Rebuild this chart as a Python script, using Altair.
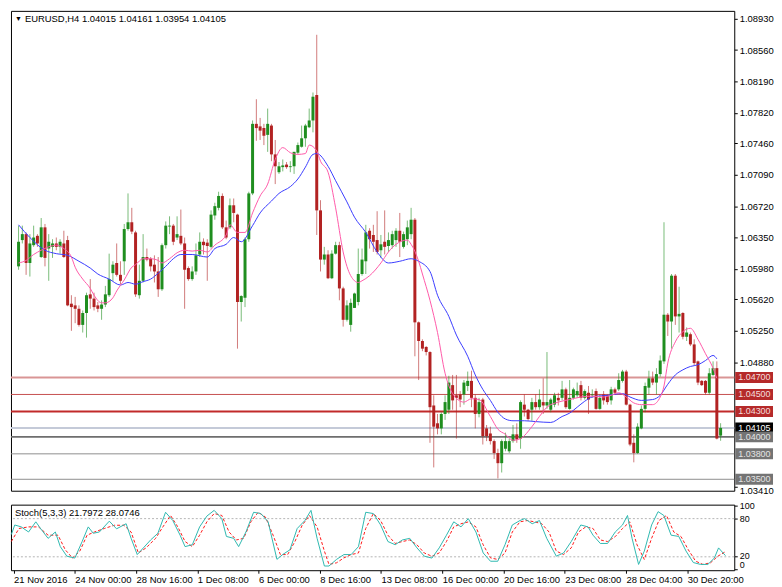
import altair as alt
import pandas as pd

# ---------------- H4 candles (index 0 = 21 Nov 2016 08:00) ----------------
bar_open = [1.0601, 1.0632, 1.0639, 1.0605, 1.0626, 1.0637, 1.0612, 1.0647, 1.0622, 1.0624,
            1.0628, 1.0624, 1.0628, 1.0632, 1.0557, 1.0555, 1.0551, 1.0532, 1.0546, 1.0568,
            1.0563, 1.0555, 1.0551, 1.0556, 1.0567, 1.0593, 1.0605, 1.0591, 1.0607, 1.0645,
            1.0653, 1.0641, 1.0567, 1.0584, 1.0612, 1.0610, 1.0603, 1.0595, 1.0574, 1.0626,
            1.0648, 1.0649, 1.0635, 1.0637, 1.0628, 1.0599, 1.0586, 1.0595, 1.0615, 1.0630,
            1.0629, 1.0624, 1.0661, 1.0670, 1.0684, 1.0647, 1.0647, 1.0673, 1.0662, 1.0559,
            1.0564, 1.0633, 1.0687, 1.0769, 1.0766, 1.0764, 1.0756, 1.0767, 1.0733, 1.0712,
            1.0718, 1.0721, 1.0718, 1.0719, 1.0735, 1.0742, 1.0752, 1.0765, 1.0773, 1.0803,
            1.0667, 1.0609, 1.0615, 1.0587, 1.0616, 1.0626, 1.0575, 1.0538, 1.0532, 1.0552,
            1.0559, 1.0592, 1.0607, 1.0643, 1.0638, 1.0632, 1.0620, 1.0630, 1.0625, 1.0626,
            1.0632, 1.0643, 1.0624, 1.0633, 1.0639, 1.0656, 1.0535, 1.0513, 1.0506, 1.0500,
            1.0437, 1.0416, 1.0410, 1.0427, 1.0432, 1.0461, 1.0449, 1.0450, 1.0450, 1.0460,
            1.0466, 1.0446, 1.0427, 1.0444, 1.0410, 1.0404, 1.0395, 1.0381, 1.0369, 1.0386,
            1.0383, 1.0395, 1.0403, 1.0398, 1.0438, 1.0432, 1.0432, 1.0441, 1.0435, 1.0441,
            1.0437, 1.0432, 1.0438, 1.0446, 1.0446, 1.0456, 1.0433, 1.0446, 1.0449, 1.0461,
            1.0446, 1.0452, 1.0449, 1.0454, 1.0433, 1.0450, 1.0449, 1.0443, 1.0456, 1.0456,
            1.0466, 1.0477, 1.0438, 1.0393, 1.0381, 1.0410, 1.0433, 1.0458, 1.0469, 1.0464,
            1.0474, 1.0489, 1.0544, 1.0536, 1.0590, 1.0542, 1.0546, 1.0518, 1.0521, 1.0509,
            1.0489, 1.0466, 1.0466, 1.0452, 1.0473, 1.0481, 1.04015]
bar_high = [1.0649, 1.0649, 1.0641, 1.0639, 1.0649, 1.0639, 1.0658, 1.0651, 1.0639, 1.0633,
            1.0635, 1.0633, 1.0643, 1.0637, 1.0567, 1.0565, 1.0555, 1.0549, 1.0570, 1.0586,
            1.0570, 1.0559, 1.0561, 1.0578, 1.0616, 1.0607, 1.0628, 1.0607, 1.0651, 1.0687,
            1.0670, 1.0643, 1.0603, 1.0639, 1.0622, 1.0612, 1.0614, 1.0612, 1.0628, 1.0654,
            1.0660, 1.0651, 1.0660, 1.0668, 1.0635, 1.0601, 1.0601, 1.0628, 1.0641, 1.0634,
            1.0633, 1.0667, 1.0676, 1.0689, 1.0687, 1.0655, 1.0681, 1.0681, 1.0663, 1.0567,
            1.0635, 1.0689, 1.0773, 1.0798, 1.0776, 1.0769, 1.0787, 1.0769, 1.0750, 1.0724,
            1.0727, 1.0724, 1.0725, 1.0736, 1.0747, 1.0767, 1.0769, 1.0787, 1.0806, 1.0874,
            1.0679, 1.0624, 1.0620, 1.0620, 1.0630, 1.0630, 1.0577, 1.0561, 1.0563, 1.0570,
            1.0622, 1.0622, 1.0650, 1.0646, 1.0650, 1.0666, 1.0638, 1.0667, 1.0641, 1.0643,
            1.0646, 1.0664, 1.0642, 1.0655, 1.0670, 1.0658, 1.0536, 1.0515, 1.0507, 1.0501,
            1.0449, 1.0427, 1.0429, 1.0449, 1.0472, 1.0473, 1.0473, 1.0454, 1.0467, 1.0477,
            1.0478, 1.0450, 1.0446, 1.0446, 1.0414, 1.0412, 1.0397, 1.0386, 1.0397, 1.0405,
            1.0398, 1.0414, 1.0416, 1.0443, 1.0450, 1.0433, 1.0446, 1.0450, 1.0456, 1.0469,
            1.0500, 1.0446, 1.0452, 1.0452, 1.0466, 1.0458, 1.0467, 1.0458, 1.0464, 1.0466,
            1.0456, 1.0460, 1.0456, 1.0457, 1.0450, 1.0454, 1.0450, 1.0459, 1.0458, 1.0475,
            1.0479, 1.0479, 1.0439, 1.0403, 1.0416, 1.0437, 1.0464, 1.0478, 1.0477, 1.0481,
            1.0496, 1.0653, 1.0546, 1.0592, 1.0592, 1.0577, 1.0547, 1.0529, 1.0523, 1.0515,
            1.0490, 1.0467, 1.0467, 1.0481, 1.0489, 1.0489, 1.04161]
bar_low = [1.0597, 1.0628, 1.0591, 1.0589, 1.0624, 1.0624, 1.0611, 1.0601, 1.0584, 1.0611,
           1.0620, 1.0616, 1.0611, 1.0554, 1.0525, 1.0534, 1.0530, 1.0523, 1.0517, 1.0551,
           1.0549, 1.0547, 1.0538, 1.0553, 1.0565, 1.0584, 1.0589, 1.0580, 1.0591, 1.0643,
           1.0639, 1.0565, 1.0563, 1.0582, 1.0607, 1.0595, 1.0582, 1.0565, 1.0572, 1.0622,
           1.0639, 1.0626, 1.0632, 1.0626, 1.0551, 1.0584, 1.0584, 1.0591, 1.0612, 1.0615,
           1.0584, 1.0622, 1.0656, 1.0667, 1.0645, 1.0633, 1.0645, 1.0653, 1.0504, 1.0536,
           1.0553, 1.0630, 1.0685, 1.0749, 1.0750, 1.0744, 1.0736, 1.0725, 1.0698, 1.0710,
           1.0713, 1.0716, 1.0712, 1.0710, 1.0733, 1.0741, 1.0742, 1.0764, 1.0759, 1.0638,
           1.0595, 1.0603, 1.0586, 1.0586, 1.0615, 1.0561, 1.0530, 1.0536, 1.0524, 1.0552,
           1.0555, 1.0590, 1.0592, 1.0622, 1.0618, 1.0615, 1.0611, 1.0615, 1.0618, 1.0622,
           1.0624, 1.0612, 1.0622, 1.0626, 1.0633, 1.0495, 1.0467, 1.0501, 1.0496, 1.0393,
           1.0364, 1.0403, 1.0403, 1.0420, 1.0427, 1.0432, 1.0398, 1.0435, 1.0438, 1.0454,
           1.0435, 1.0410, 1.0423, 1.0391, 1.0395, 1.0391, 1.0374, 1.0351, 1.0358, 1.0383,
           1.0381, 1.0393, 1.0393, 1.0386, 1.0424, 1.0419, 1.0419, 1.0432, 1.0432, 1.0427,
           1.0433, 1.0429, 1.0435, 1.0437, 1.0443, 1.0433, 1.0432, 1.0444, 1.0446, 1.0443,
           1.0444, 1.0427, 1.0446, 1.0432, 1.0432, 1.0438, 1.0438, 1.0438, 1.0450, 1.0454,
           1.0464, 1.0437, 1.0389, 1.0370, 1.0380, 1.0409, 1.0429, 1.0450, 1.0461, 1.0450,
           1.0471, 1.0486, 1.0519, 1.0504, 1.0532, 1.0523, 1.0515, 1.0513, 1.0507, 1.0484,
           1.0461, 1.0460, 1.0450, 1.0450, 1.0472, 1.0397, 1.03954]
bar_close = [1.0630, 1.0639, 1.0605, 1.0628, 1.0635, 1.0628, 1.0647, 1.0611, 1.0630, 1.0628,
             1.0624, 1.0630, 1.0612, 1.0555, 1.0553, 1.0551, 1.0532, 1.0546, 1.0567, 1.0563,
             1.0553, 1.0551, 1.0556, 1.0568, 1.0586, 1.0603, 1.0591, 1.0584, 1.0645, 1.0653,
             1.0642, 1.0568, 1.0584, 1.0612, 1.0609, 1.0601, 1.0595, 1.0574, 1.0626, 1.0649,
             1.0649, 1.0630, 1.0639, 1.0628, 1.0597, 1.0586, 1.0595, 1.0614, 1.0630, 1.0626,
             1.0625, 1.0662, 1.0672, 1.0684, 1.0647, 1.0635, 1.0673, 1.0664, 1.0559, 1.0566,
             1.0633, 1.0687, 1.0769, 1.0764, 1.0761, 1.0755, 1.0769, 1.0733, 1.0719, 1.0719,
             1.0720, 1.0718, 1.0719, 1.0736, 1.0744, 1.0752, 1.0767, 1.0773, 1.0801, 1.0667,
             1.0609, 1.0615, 1.0587, 1.0616, 1.0626, 1.0575, 1.0538, 1.0555, 1.0558, 1.0569,
             1.0592, 1.0609, 1.0641, 1.0633, 1.0630, 1.0618, 1.0627, 1.0624, 1.0632, 1.0639,
             1.0643, 1.0630, 1.0639, 1.0647, 1.0656, 1.0535, 1.0513, 1.0504, 1.0500, 1.0435,
             1.0412, 1.0410, 1.0427, 1.0441, 1.0464, 1.0443, 1.0446, 1.0444, 1.0464, 1.0466,
             1.0446, 1.0427, 1.0441, 1.0401, 1.0401, 1.0395, 1.0381, 1.0369, 1.0395, 1.0395,
             1.0395, 1.0403, 1.0397, 1.0441, 1.0432, 1.0421, 1.0441, 1.0435, 1.0444, 1.0437,
             1.0441, 1.0444, 1.0449, 1.0443, 1.0456, 1.0435, 1.0446, 1.0456, 1.0454, 1.0446,
             1.0454, 1.0444, 1.0450, 1.0433, 1.0446, 1.0443, 1.0441, 1.0456, 1.0452, 1.0467,
             1.0477, 1.0438, 1.0391, 1.0381, 1.0412, 1.0433, 1.0460, 1.0469, 1.0464, 1.0474,
             1.0490, 1.0544, 1.0536, 1.0590, 1.0542, 1.0545, 1.0518, 1.0523, 1.0509, 1.0487,
             1.0464, 1.0461, 1.0452, 1.0475, 1.0481, 1.0398, 1.04105]

# ---------------- moving averages (bar index, price) ----------------
ma_fast_idx = [0, 2, 4, 6, 8, 10, 12, 14, 15, 17, 19, 20, 22, 23, 25, 26, 28, 30, 31, 33,
               35, 37, 38, 40, 42, 44, 46, 48, 50, 52, 55, 56, 58, 60, 62, 64, 66, 68, 70, 72,
               74, 76, 77, 79, 80, 82, 84, 86, 88, 90, 91, 93, 96, 98, 100, 103, 104, 106, 107, 109,
               111, 113, 115, 118, 120, 122, 125, 127, 129, 131, 133, 136, 138, 140, 143, 146, 149, 152, 155, 157,
               159, 161, 163, 165, 168, 170, 171, 172, 174, 176, 178, 180, 182, 184, 185]
ma_fast_val = [1.0605, 1.0608, 1.0615, 1.0620, 1.0624, 1.0626, 1.0622, 1.0612, 1.0600, 1.0586,
               1.0575, 1.0567, 1.0558, 1.0558, 1.0564, 1.0572, 1.0585, 1.0600, 1.0603, 1.0610,
               1.0610, 1.0608, 1.0605, 1.0610, 1.0617, 1.0620, 1.0619, 1.0620, 1.0618, 1.0626,
               1.0638, 1.0650, 1.0641, 1.0641, 1.0664, 1.0684, 1.0698, 1.0727, 1.0741, 1.0735,
               1.0733, 1.0734, 1.0744, 1.0737, 1.0725, 1.0712, 1.0670, 1.0618, 1.0590, 1.0582,
               1.0584, 1.0590, 1.0605, 1.0618, 1.0627, 1.0632, 1.0627, 1.0607, 1.0592, 1.0561,
               1.0523, 1.0475, 1.0451, 1.0441, 1.0445, 1.0444, 1.0424, 1.0409, 1.0403, 1.0396,
               1.0398, 1.0412, 1.0424, 1.0435, 1.0441, 1.0444, 1.0447, 1.0448, 1.0447, 1.0449,
               1.0452, 1.0447, 1.0440, 1.0438, 1.0438, 1.0447, 1.0460, 1.0487, 1.0512, 1.0524,
               1.0528, 1.0515, 1.0498, 1.0481, 1.0469]
ma_slow_idx = [0, 3, 7, 10, 13, 16, 19, 21, 24, 27, 29, 31, 33, 35, 37, 39, 41, 43, 46, 50,
               52, 55, 57, 59, 62, 64, 67, 69, 72, 74, 76, 78, 79, 82, 84, 87, 89, 92, 95, 98,
               101, 104, 106, 109, 111, 114, 116, 119, 121, 123, 125, 127, 129, 131, 134, 137, 141, 144, 146, 148,
               150, 152, 156, 160, 162, 165, 168, 170, 172, 174, 176, 178, 180, 182, 184, 185]
ma_slow_val = [1.0650, 1.0635, 1.0620, 1.0616, 1.0614, 1.0607, 1.0599, 1.0592, 1.0586, 1.0579,
               1.0582, 1.0580, 1.0583, 1.0586, 1.0593, 1.0601, 1.0610, 1.0615, 1.0615, 1.0612,
               1.0622, 1.0627, 1.0635, 1.0630, 1.0649, 1.0664, 1.0678, 1.0687, 1.0695, 1.0704,
               1.0718, 1.0733, 1.0734, 1.0719, 1.0702, 1.0677, 1.0659, 1.0641, 1.0618, 1.0605,
               1.0607, 1.0610, 1.0607, 1.0595, 1.0567, 1.0542, 1.0520, 1.0495, 1.0473, 1.0456,
               1.0443, 1.0429, 1.0421, 1.0419, 1.0419, 1.0418, 1.0417, 1.0424, 1.0428, 1.0435,
               1.0442, 1.0447, 1.0449, 1.0451, 1.0447, 1.0443, 1.0444, 1.0449, 1.0462, 1.0473,
               1.0479, 1.0483, 1.0485, 1.0490, 1.0496, 1.0492]

# ---------------- Stochastic (5,3,3) ----------------
stoch_k_idx = [-0.6, 0.3, 2.0, 3.9, 5.8, 7.1, 9.0, 10.9, 12.2, 13.9, 16.0, 17.9, 19.5, 20.8, 22.4,
               25.0, 26.9, 29.4, 30.7, 32.3, 33.9, 35.8, 37.7, 39.7, 41.6, 43.5, 44.8, 46.7, 48.6,
               50.5, 52.4, 54.4, 55.6, 57.5, 58.8, 60.7, 62.7, 64.6, 66.5, 68.8, 70.3, 72.2, 74.1,
               76.1, 77.7, 79.3, 81.2, 82.4, 84.4, 86.3, 88.2, 90.1, 92.0, 94.0, 95.9, 97.8, 99.7,
               101.6, 103.5, 105.4, 107.3, 109.3, 111.2, 113.1, 115.0, 116.9, 118.8, 120.8, 122.7,
               124.6, 126.5, 128.4, 130.3, 132.3, 133.5, 135.5, 137.4, 139.3, 141.8, 143.7, 145.7,
               148.2, 150.1, 151.4, 153.3, 155.2, 157.2, 159.1, 160.4, 161.6, 163.3, 164.8, 166.7,
               168.4, 169.9, 171.8, 173.8, 175.7, 177.6, 179.5, 181.4, 183.1, 184.2, 186.0]
stoch_k_val = [55, 70, 67, 59, 75, 64, 49, 59, 36, 21, 18, 44, 67, 57, 59,
               76, 64, 72, 49, 23.5, 34, 46.5, 57, 90, 77, 54, 36, 39, 67,
               84, 93, 80, 52, 49, 36, 59, 90, 88, 75, 16, 23.5, 31, 64.5,
               77, 93, 49, 5.5, 5.5, 16, 23.5, 23.5, 36, 90, 88, 70, 44, 39,
               46.5, 49, 34, 21, 18, 34, 54, 75, 67, 80, 59, 26,
               13, 13, 39, 70, 77, 80, 72, 77, 49, 21, 26, 44,
               70, 67, 54, 41, 41, 59, 70, 85, 49, 8, 29, 70,
               91, 85, 54, 52, 29, 11, 8, 8, 18, 34, 21.7972]
stoch_d_idx = [-0.6, 1.4, 3.9, 6.5, 9.0, 11.6, 13.5, 15.4, 17.3, 19.2, 21.1, 23.7, 26.3, 28.8, 30.7,
               32.6, 34.6, 37.1, 39.0, 41.0, 42.9, 44.8, 46.7, 48.6, 50.5, 52.4, 54.4, 56.3, 58.2,
               60.1, 62.0, 63.9, 65.8, 67.8, 69.7, 71.6, 73.5, 75.4, 77.3, 79.3, 81.2, 82.4, 84.4,
               86.3, 88.2, 90.1, 92.0, 94.0, 95.9, 97.8, 99.7, 101.6, 103.5, 105.4, 107.3, 109.3,
               111.2, 113.1, 115.0, 116.9, 118.8, 120.8, 122.7, 124.6, 126.5, 128.4, 130.3, 132.3,
               134.2, 136.1, 138.0, 139.9, 141.8, 143.7, 145.7, 147.6, 149.5, 151.4, 153.3, 155.2,
               157.2, 159.1, 161.0, 162.9, 164.8, 166.7, 168.6, 170.6, 172.5, 174.4, 176.3, 178.2,
               180.1, 182.1, 184.0, 186.0]
stoch_d_val = [44, 64.5, 67, 67, 54, 54, 31, 18, 29, 54, 59, 64.5, 69.6, 69.6, 59,
               26, 34, 49, 67, 85, 67, 44, 36, 54, 75, 88, 85, 59, 46.5,
               49, 75, 90, 82.5, 54, 23.5, 23.5, 44, 69.6, 85, 67, 29, 8, 10.6,
               18.3, 23.5, 26, 64.5, 88, 77, 54, 41, 44, 46.5, 38.8, 26, 20.9,
               26, 44, 67, 72, 74.8, 67, 38.8, 18.3, 15.8, 26, 59, 75,
               77, 75, 72, 59, 29, 23.5, 34, 59, 67, 64.5, 46.5, 44,
               51.7, 64.5, 75, 38.8, 15.8, 49, 77, 85, 59, 51.7, 31, 13.2,
               8, 10.6, 20.9, 28.0746]

# ---------------- horizontal levels ----------------
level_prices = [1.04700, 1.04500, 1.04300, 1.04105, 1.04000, 1.03800, 1.03500]
level_labels = ["1.04700", "1.04500", "1.04300", "1.04105", "1.04000", "1.03800", "1.03500"]
level_line_colors = ["#d99595", "#c65050", "#c12a2a", "#c4cad8", "#6e6e6e", "#8e8e8e", "#8e8e8e"]
level_line_widths = [2, 1, 2, 2, 2, 1, 1]
level_box_colors = ["#b52a2a", "#b52a2a", "#b52a2a", "#000000", "#747474", "#747474", "#747474"]
level_text_colors = ["#f4dede", "#f4dede", "#f4dede", "#ffffff", "#e4e4e4", "#e4e4e4", "#e4e4e4"]

price_ticks = [1.08930, 1.08560, 1.08190, 1.07820, 1.07460, 1.07090, 1.06720, 1.06350,
               1.05980, 1.05620, 1.05250, 1.04880, 1.03410]
stoch_ticks = [0, 20, 80, 100]
stoch_levels = [20, 80]
time_tick_idx = [0, 16, 32, 48, 64, 80, 96, 112, 128, 144, 160, 176]
time_tick_labels = ["21 Nov 2016", "24 Nov 00:00", "28 Nov 16:00", "1 Dec 08:00", "6 Dec 00:00",
                    "8 Dec 16:00", "13 Dec 08:00", "16 Dec 00:00", "20 Dec 16:00", "23 Dec 08:00",
                    "28 Dec 04:00", "30 Dec 20:00"]
title_text = "EURUSD,H4  1.04015 1.04161 1.03954 1.04105"
stoch_text = "Stoch(5,3,3) 21.7972 28.0746"

# ---------------- layout / style ----------------
W, H1, H2 = 728, 483, 66
FONT = "Liberation Sans"
FS = 9.5
BULL, BEAR = "#1f8e1f", "#b22222"

xs = alt.Scale(domain=[-0.69, 188.3], nice=False, zero=False)
ys = alt.Scale(domain=[1.03365, 1.09022], nice=False, zero=False)
ss = alt.Scale(domain=[-1.1, 102], nice=False, zero=False)

yaxis = alt.Axis(orient="right", values=price_ticks, format=".5f", title=None, grid=False,
                 domain=False, tickSize=3, tickColor="black", labelPadding=2,
                 labelOverlap=False,
                 labelOffset={"condition": {"test": "datum.value < 1.035", "value": 4}, "value": 0},
                 labelFont=FONT, labelFontSize=FS, labelColor="black")

candles = pd.DataFrame({"bar": list(range(len(bar_open))), "open": bar_open,
                        "high": bar_high, "low": bar_low, "close": bar_close})
levels = pd.DataFrame({"price": level_prices, "label": level_labels,
                       "line_color": level_line_colors, "line_width": level_line_widths,
                       "box_color": level_box_colors, "text_color": level_text_colors})
fast = pd.DataFrame({"bar": ma_fast_idx, "v": ma_fast_val})
slow = pd.DataFrame({"bar": ma_slow_idx, "v": ma_slow_val})

up = "datum.close >= datum.open"

level_lines = alt.Chart(levels).mark_rule().encode(
    y=alt.Y("price:Q", scale=ys, axis=yaxis),
    color=alt.Color("line_color:N", scale=None),
    strokeWidth=alt.StrokeWidth("line_width:Q", scale=None))

cbase = alt.Chart(candles).encode(x=alt.X("bar:Q", scale=xs, axis=None))
wicks = cbase.mark_rule(strokeWidth=1, opacity=0.6).encode(
    y=alt.Y("low:Q", scale=ys, axis=yaxis), y2="high:Q",
    color=alt.condition(up, alt.value(BULL), alt.value(BEAR)))
bodies = cbase.mark_bar(size=3).encode(
    y=alt.Y("open:Q", scale=ys, axis=yaxis), y2="close:Q",
    color=alt.condition(up, alt.value(BULL), alt.value(BEAR)))

fast_line = alt.Chart(fast).mark_line(color="#ff5aa8", strokeWidth=1, interpolate="monotone").encode(
    x=alt.X("bar:Q", scale=xs, axis=None), y=alt.Y("v:Q", scale=ys, axis=yaxis))
slow_line = alt.Chart(slow).mark_line(color="#3a3cff", strokeWidth=1, interpolate="monotone").encode(
    x=alt.X("bar:Q", scale=xs, axis=None), y=alt.Y("v:Q", scale=ys, axis=yaxis))

boxes = alt.Chart(levels).mark_tick(orient="horizontal", size=38, thickness=11, opacity=1).encode(
    x=alt.value(W + 20), y=alt.Y("price:Q", scale=ys, axis=yaxis),
    color=alt.Color("box_color:N", scale=None))
box_text = alt.Chart(levels).mark_text(align="left", baseline="middle", font=FONT, fontSize=9).encode(
    x=alt.value(W + 4), y=alt.Y("price:Q", scale=ys, axis=yaxis), text="label:N",
    color=alt.Color("text_color:N", scale=None))

title_df = pd.DataFrame({"t": [title_text], "tri": ["\u25BC"]})
title_mark = alt.Chart(title_df).mark_text(align="left", baseline="middle", font=FONT,
                                          fontSize=FS, color="black").encode(
    x=alt.value(14), y=alt.value(8), text="t:N")
tri_mark = alt.Chart(title_df).mark_text(align="left", baseline="middle", font=FONT,
                                        fontSize=7, color="black").encode(
    x=alt.value(4), y=alt.value(8), text="tri:N")

price_panel = alt.layer(level_lines, wicks, bodies, slow_line, fast_line, boxes, box_text,
                        title_mark, tri_mark).properties(width=W, height=H1)

# stochastic panel
label_expr = " : ".join(f"datum.value == {i} ? '{s}'" for i, s in zip(time_tick_idx, time_tick_labels)) + " : ''"
xaxis = alt.Axis(values=time_tick_idx, labelExpr=label_expr, title=None, grid=False, domain=False,
                 tickSize=3, tickColor="black", labelAlign="left", labelPadding=1, labelFlush=False,
                 labelOverlap=False, labelFont=FONT, labelFontSize=FS, labelColor="black")
saxis = alt.Axis(orient="right", values=stoch_ticks, title=None, grid=False, domain=False,
                 tickSize=3, tickColor="black", labelPadding=2, labelFlush=True, labelOverlap=False,
                 labelOffset={"condition": {"test": "datum.value == 20", "value": -1.5}, "value": 0},
                 labelFont=FONT, labelFontSize=9, labelColor="black")

k_df = pd.DataFrame({"bar": stoch_k_idx, "v": stoch_k_val})
d_df = pd.DataFrame({"bar": stoch_d_idx, "v": stoch_d_val})
lv_df = pd.DataFrame({"v": stoch_levels})

s_levels = alt.Chart(lv_df).mark_rule(color="#b4b4b4", strokeDash=[2, 2], strokeWidth=1).encode(
    y=alt.Y("v:Q", scale=ss, axis=saxis))
k_line = alt.Chart(k_df).mark_line(color="#2fb8b0", strokeWidth=1).encode(
    x=alt.X("bar:Q", scale=xs, axis=xaxis), y=alt.Y("v:Q", scale=ss, axis=saxis))
d_line = alt.Chart(d_df).mark_line(color="#ff1a1a", strokeWidth=1, strokeDash=[3, 2]).encode(
    x=alt.X("bar:Q", scale=xs, axis=xaxis), y=alt.Y("v:Q", scale=ss, axis=saxis))
s_title = alt.Chart(pd.DataFrame({"t": [stoch_text]})).mark_text(
    align="left", baseline="middle", font=FONT, fontSize=FS, color="black").encode(
    x=alt.value(4), y=alt.value(8), text="t:N")

stoch_panel = alt.layer(s_levels, d_line, k_line, s_title).properties(width=W, height=H2)

chart = alt.vconcat(price_panel, stoch_panel, spacing=4).properties(
    padding={"left": 0, "top": 0, "right": 0, "bottom": 0}, background="white"
).configure_view(stroke="black", strokeWidth=1)

chart.save("out.html", embed_options={"renderer": "svg", "actions": False})
